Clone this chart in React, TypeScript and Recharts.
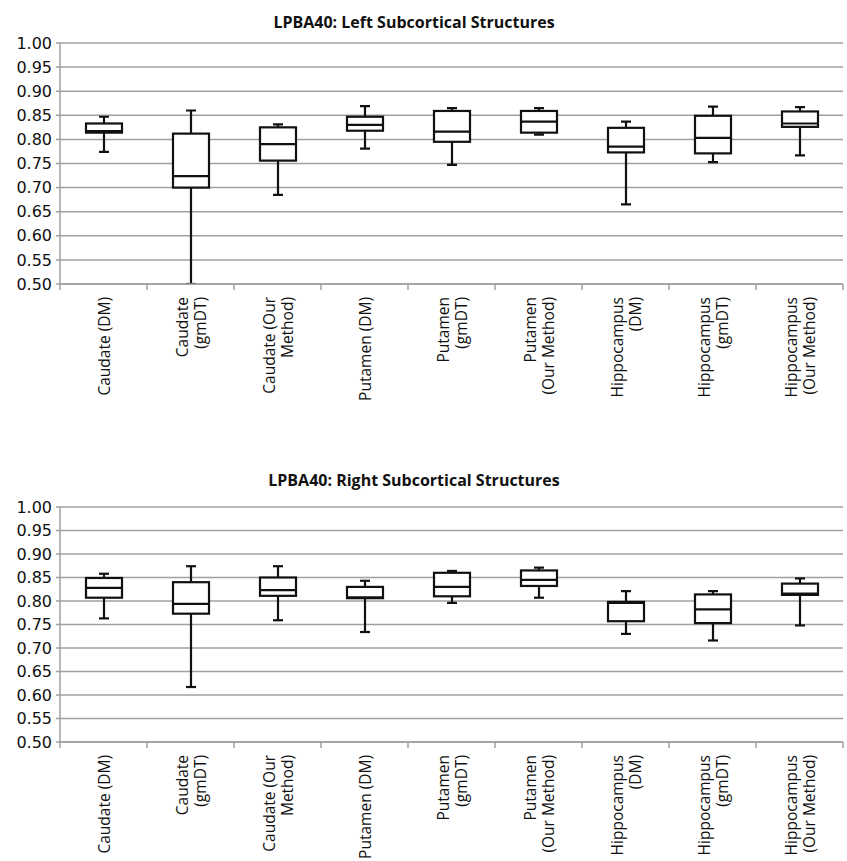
import React from 'react';
import { ComposedChart, Bar, XAxis, YAxis, CartesianGrid } from 'recharts';

// category labels, split into the lines shown under each box
const categories: string[][] = [
  ['Caudate (DM)'],
  ['Caudate', '(gmDT)'],
  ['Caudate (Our', 'Method)'],
  ['Putamen (DM)'],
  ['Putamen', '(gmDT)'],
  ['Putamen', '(Our Method)'],
  ['Hippocampus', '(DM)'],
  ['Hippocampus', '(gmDT)'],
  ['Hippocampus', '(Our Method)'],
];

const yTicks = [0.5, 0.55, 0.6, 0.65, 0.7, 0.75, 0.8, 0.85, 0.9, 0.95, 1.0];

// Left subcortical structures
const leftMin = [0.774, 0.5, 0.685, 0.781, 0.747, 0.81, 0.665, 0.753, 0.767];
const leftQ1 = [0.814, 0.7, 0.756, 0.818, 0.795, 0.814, 0.773, 0.771, 0.826];
const leftMedian = [0.817, 0.724, 0.79, 0.83, 0.816, 0.837, 0.785, 0.803, 0.833];
const leftQ3 = [0.833, 0.812, 0.825, 0.847, 0.859, 0.859, 0.824, 0.849, 0.858];
const leftMax = [0.847, 0.86, 0.831, 0.869, 0.865, 0.865, 0.837, 0.868, 0.867];

// Right subcortical structures
const rightMin = [0.763, 0.617, 0.759, 0.734, 0.796, 0.807, 0.73, 0.716, 0.748];
const rightQ1 = [0.807, 0.773, 0.811, 0.806, 0.81, 0.832, 0.757, 0.753, 0.813];
const rightMedian = [0.828, 0.794, 0.823, 0.808, 0.83, 0.845, 0.796, 0.782, 0.816];
const rightQ3 = [0.849, 0.84, 0.85, 0.83, 0.86, 0.865, 0.798, 0.814, 0.837];
const rightMax = [0.858, 0.874, 0.874, 0.843, 0.864, 0.871, 0.821, 0.821, 0.848];

interface BoxRow {
  name: string;
  min: number;
  q1: number;
  median: number;
  q3: number;
  max: number;
}

const buildRows = (mn: number[], q1: number[], md: number[], q3: number[], mx: number[]): BoxRow[] =>
  categories.map((c, i) => ({
    name: c.join(' '),
    min: mn[i],
    q1: q1[i],
    median: md[i],
    q3: q3[i],
    max: mx[i],
  }));

const leftData = buildRows(leftMin, leftQ1, leftMedian, leftQ3, leftMax);
const rightData = buildRows(rightMin, rightQ1, rightMedian, rightQ3, rightMax);

const CHART_W = 847;
const Y_AXIS_W = 60;
const RIGHT_MARGIN = 4;
const BAND = (CHART_W - Y_AXIS_W - RIGHT_MARGIN) / categories.length;
const GRID = '#a0a0a0';

// bar spans min..max; quartiles are placed inside it on the same linear scale
const BoxShape = (props: any) => {
  const { x, y, width, height } = props;
  const d: BoxRow = props.payload ?? props;
  const top = Math.min(y, y + height);
  const bot = Math.max(y, y + height);
  const span = d.max - d.min || 1;
  const py = (v: number) => bot - ((v - d.min) / span) * (bot - top);
  const cx = x + width / 2;
  const cap = 5;
  return (
    <g stroke="#111" strokeWidth={2.2} fill="none">
      <line x1={cx - cap} x2={cx + cap} y1={py(d.max)} y2={py(d.max)} />
      <line x1={cx} x2={cx} y1={py(d.max)} y2={py(d.q3)} />
      <line x1={cx} x2={cx} y1={py(d.q1)} y2={py(d.min)} />
      <line x1={cx - cap} x2={cx + cap} y1={py(d.min)} y2={py(d.min)} />
      <rect x={x} y={py(d.q3)} width={width} height={py(d.q1) - py(d.q3)} fill="#fff" />
      <line x1={x} x2={x + width} y1={py(d.median)} y2={py(d.median)} />
    </g>
  );
};

const CategoryTick = (props: any) => {
  const { x, y, index } = props;
  const lines = categories[index] || [];
  const ay = y + 13;
  const n = lines.length;
  return (
    <g>
      <line x1={x - BAND / 2} x2={x - BAND / 2} y1={y} y2={y + 6} stroke={GRID} strokeWidth={1.5} />
      {index === categories.length - 1 && (
        <line x1={x + BAND / 2} x2={x + BAND / 2} y1={y} y2={y + 6} stroke={GRID} strokeWidth={1.5} />
      )}
      <text
        transform={`translate(${x},${ay}) rotate(-90)`}
        textAnchor="end"
        fontFamily="'Open Sans', sans-serif"
        fontSize={15.5}
        fill="#111"
      >
        {lines.map((l, i) => (
          <tspan key={i} x={0} y={(i - (n - 1) / 2) * 18} dominantBaseline="central">
            {l}
          </tspan>
        ))}
      </text>
    </g>
  );
};

interface PanelProps {
  title: string;
  data: BoxRow[];
  top: number;
  height: number;
  marginTop: number;
  xAxisHeight: number;
  titleY: number;
}

const Panel = ({ title, data, top, height, marginTop, xAxisHeight, titleY }: PanelProps) => (
  <div style={{ position: 'absolute', left: 0, top, width: CHART_W, height }}>
    <div
      style={{
        position: 'absolute',
        left: 0,
        width: 828,
        top: titleY - 10,
        lineHeight: '20px',
        textAlign: 'center',
        fontFamily: "'Open Sans', sans-serif",
        fontWeight: 700,
        fontSize: 16,
        color: '#111',
      }}
    >
      {title}
    </div>
    <ComposedChart
      width={CHART_W}
      height={height}
      data={data}
      margin={{ top: marginTop, right: RIGHT_MARGIN, left: 0, bottom: 0 }}
    >
      <CartesianGrid vertical={false} stroke={GRID} strokeWidth={1.5} />
      <XAxis
        dataKey="name"
        interval={0}
        height={xAxisHeight}
        tickLine={false}
        tickSize={0}
        tickMargin={0}
        axisLine={{ stroke: GRID, strokeWidth: 1.5 }}
        tick={<CategoryTick />}
      />
      <YAxis
        type="number"
        domain={[0.5, 1]}
        ticks={yTicks}
        allowDataOverflow
        width={Y_AXIS_W}
        tickSize={4}
        tickMargin={4}
        tickFormatter={(v: number) => v.toFixed(2)}
        axisLine={{ stroke: GRID, strokeWidth: 1.5 }}
        tickLine={{ stroke: GRID, strokeWidth: 1.5 }}
        tick={{ fontFamily: "'DejaVu Sans', sans-serif", fontSize: 16, fill: '#111' }}
      />
      <Bar
        dataKey={(d: BoxRow) => [d.min, d.max]}
        barSize={36}
        shape={<BoxShape />}
        isAnimationActive={false}
      />
    </ComposedChart>
  </div>
);

export default function App() {
  return (
    <div
      style={{
        position: 'absolute',
        left: 0,
        top: 0,
        width: 847,
        height: 861,
        overflow: 'hidden',
        background: '#fff',
      }}
    >
      <Panel
        title="LPBA40: Left Subcortical Structures"
        data={leftData}
        top={0}
        height={440}
        marginTop={43}
        xAxisHeight={156}
        titleY={22}
      />
      <Panel
        title="LPBA40: Right Subcortical Structures"
        data={rightData}
        top={460}
        height={401}
        marginTop={47}
        xAxisHeight={119}
        titleY={20}
      />
    </div>
  );
}
